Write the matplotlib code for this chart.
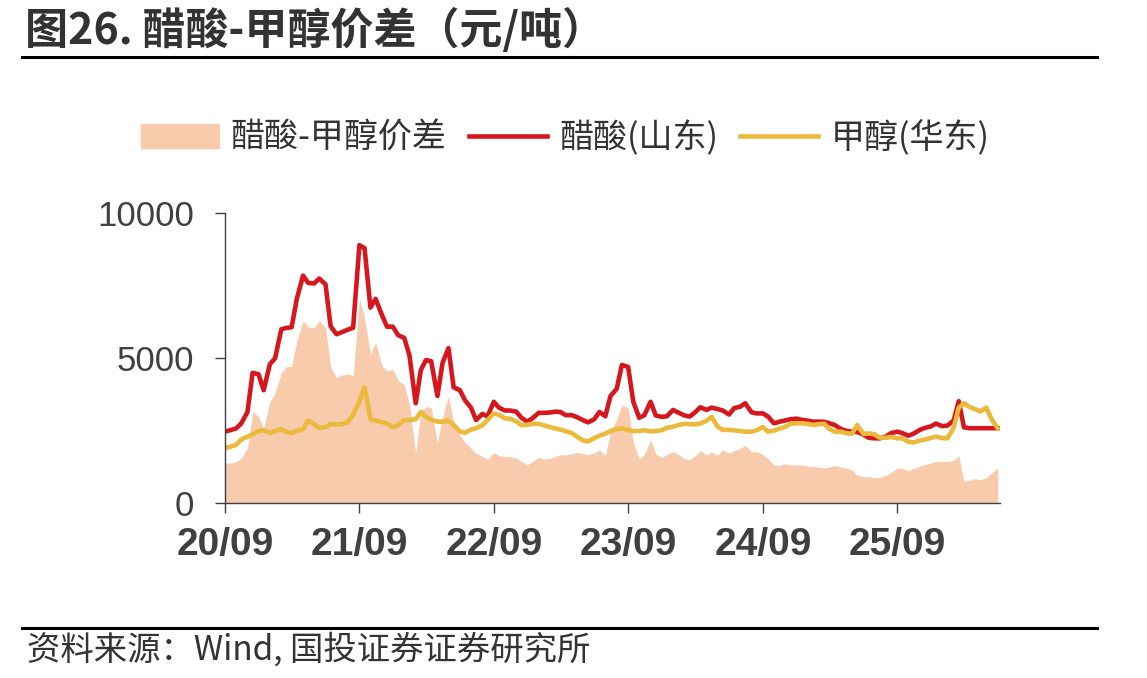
import matplotlib
matplotlib.use("Agg")
import matplotlib.pyplot as plt
import matplotlib.dates as mdates
from matplotlib.lines import Line2D
from matplotlib.patches import Patch
import pandas as pd

plt.rcParams['font.family'] = ['Noto Sans CJK SC', 'DejaVu Sans']

# ---- data (semi-monthly, from 2020-09-01) ----
dates = pd.date_range('2020-09-01', periods=139, freq='SMS')

# 醋酸-甲醇价差
spread = [1380, 1390, 1420, 1550, 1900, 3160, 3000, 2580, 3500, 3800, 4500, 4710,
          4730, 5600, 6300, 6080, 6050, 6300, 6050, 4700, 4340, 4420, 4460, 4400,
          7070, 6400, 5150, 5550, 4750, 4570, 4620, 4250, 4070, 3400, 1720, 3180,
          3330, 3300, 2100, 2980, 3700, 2800, 2350, 2100, 1900, 1720, 1620, 1520,
          1750, 1650, 1610, 1610, 1560, 1450, 1320, 1440, 1580, 1530, 1550, 1620,
          1670, 1670, 1710, 1760, 1720, 1680, 1740, 1840, 1650, 2450, 2880, 3390,
          3300, 2100, 1530, 1690, 2200, 1700, 1580, 1680, 1780, 1690, 1540, 1500,
          1640, 1820, 1670, 1770, 1650, 1850, 1720, 1820, 1890, 2000, 1780, 1780,
          1680, 1530, 1320, 1300, 1370, 1320, 1320, 1320, 1280, 1260, 1250, 1220,
          1260, 1310, 1250, 1210, 1150, 970, 920, 920, 880, 890, 960, 1060,
          1210, 1210, 1120, 1200, 1280, 1330, 1390, 1440, 1440, 1440, 1480, 1650,
          760, 800, 850, 810, 880, 1050, 1210]

# 醋酸(山东)
acetic = [2470, 2520, 2580, 2750, 3150, 4500, 4450, 3900, 4800, 5000, 6000, 6050,
          6070, 7050, 7850, 7600, 7580, 7750, 7550, 6100, 5830, 5900, 5990, 6050,
          8900, 8800, 6750, 7050, 6500, 6090, 6090, 5800, 5700, 5100, 3450, 4600,
          4940, 4900, 3700, 4850, 5350, 4000, 3900, 3550, 3300, 2870, 3080, 3000,
          3500, 3300, 3200, 3200, 3160, 2950, 2815, 2930, 3120, 3120, 3130, 3160,
          3150, 3040, 3040, 2970, 2870, 2790, 2900, 3150, 3000, 3700, 3950, 4770,
          4700, 3500, 2950, 3040, 3500, 3030, 2980, 3000, 3220, 3130, 3030, 2990,
          3140, 3310, 3220, 3300, 3250, 3200, 3060, 3280, 3330, 3450, 3140, 3100,
          3100, 2990, 2760, 2810, 2860, 2900, 2920, 2880, 2850, 2815, 2815, 2810,
          2760, 2700, 2560, 2500, 2470, 2460, 2370, 2260, 2240, 2240, 2300, 2420,
          2470, 2420, 2330, 2400, 2530, 2600, 2650, 2750, 2660, 2680, 2850, 3520,
          2620, 2590, 2590, 2590, 2590, 2590, 2590]

# 甲醇(华东)
methanol = [1900, 1950, 2010, 2200, 2300, 2380, 2490, 2520, 2420, 2490, 2560, 2460,
            2420, 2500, 2560, 2850, 2730, 2600, 2630, 2730, 2720, 2730, 2800, 3050,
            3500, 4000, 2900, 2850, 2800, 2750, 2620, 2700, 2870, 2870, 2900, 3150,
            2980, 2880, 2815, 2815, 2850, 2700, 2480, 2430, 2540, 2590, 2690, 2870,
            3100, 3050, 2930, 2920, 2820, 2690, 2710, 2740, 2740, 2690, 2630, 2580,
            2540, 2490, 2420, 2300, 2170, 2130, 2250, 2330, 2400, 2490, 2560, 2580,
            2530, 2490, 2490, 2520, 2480, 2490, 2520, 2600, 2640, 2700, 2740, 2730,
            2720, 2750, 2850, 2980, 2640, 2530, 2530, 2520, 2490, 2470, 2470, 2520,
            2630, 2470, 2510, 2570, 2640, 2740, 2760, 2760, 2740, 2700, 2730, 2740,
            2560, 2470, 2470, 2420, 2400, 2700, 2390, 2410, 2380, 2260, 2260, 2290,
            2240, 2240, 2120, 2100, 2160, 2200, 2250, 2300, 2250, 2240, 2600, 3300,
            3450, 3330, 3240, 3170, 3300, 2900, 2590]

tick_dates = pd.to_datetime(['2020-09-01', '2021-09-01', '2022-09-01',
                             '2023-09-01', '2024-09-01', '2025-09-01'])
y_ticks = [0, 5000, 10000]

# ---- figure ----
W, H = 1147, 678
fig = plt.figure(figsize=(W / 100, H / 100), dpi=100)
ax = fig.add_axes([225 / W, 1 - 503.3 / H, (1000 - 225) / W, (503.3 - 213.3) / H])

c_fill = '#F8CBAD'
c_red = '#D6171E'
c_yel = '#EBB93C'
c_txt = '#404040'

ax.fill_between(dates, 0, spread, color=c_fill, lw=0)
ax.plot(dates, acetic, color=c_red, lw=3.3)
ax.plot(dates, methanol, color=c_yel, lw=3.3)

ax.set_xlim(dates[0], pd.Timestamp('2026-06-07'))
ax.set_ylim(0, 10000)
ax.set_xticks(tick_dates)
ax.xaxis.set_major_formatter(mdates.DateFormatter('%y/%m'))
ax.set_yticks(y_ticks)

for s in ['top', 'right']:
    ax.spines[s].set_visible(False)
for s in ['left', 'bottom']:
    ax.spines[s].set_color(c_txt)
    ax.spines[s].set_linewidth(1.0)

ax.tick_params(axis='both', colors=c_txt, length=7, width=1.0)
ax.tick_params(axis='y', pad=15, labelsize=25)
ax.tick_params(axis='x', pad=10)
for lab in ax.get_yticklabels():
    lab.set_family(['Liberation Sans', 'DejaVu Sans'])
for lab in ax.get_xticklabels():
    lab.set_family(['Liberation Sans', 'DejaVu Sans'])
    lab.set_fontsize(28)
    lab.set_weight('bold')

# legend
handles = [Patch(color=c_fill),
           Line2D([], [], color=c_red, lw=3.3),
           Line2D([], [], color=c_yel, lw=3.3)]
labels = ['醋酸-甲醇价差', '醋酸(山东)', '甲醇(华东)']
leg = fig.legend(handles, labels, loc='center', bbox_to_anchor=(565 / W, 1 - 138 / H),
                 ncol=3, frameon=False, fontsize=24.5, handlelength=2.3,
                 handleheight=0.75, columnspacing=0.65, handletextpad=0.35)
for t in leg.get_texts():
    t.set_color('#333333')

# title, rules, source
fig.text(25 / W, 1 - 30 / H, '图26. 醋酸-甲醇价差（元/吨）', fontsize=31,
         weight='bold', color='#333333', va='center', ha='left')
fig.add_artist(Line2D([22 / W, 1097 / W], [1 - 57 / H] * 2, color='black', lw=2.2))
fig.add_artist(Line2D([22 / W, 1097 / W], [1 - 628 / H] * 2, color='black', lw=2.2))
fig.text(27 / W, 1 - 650 / H, '资料来源：Wind, 国投证券证券研究所', fontsize=24,
         color='#333333', va='center', ha='left')

fig.savefig('out.png', dpi=100)
